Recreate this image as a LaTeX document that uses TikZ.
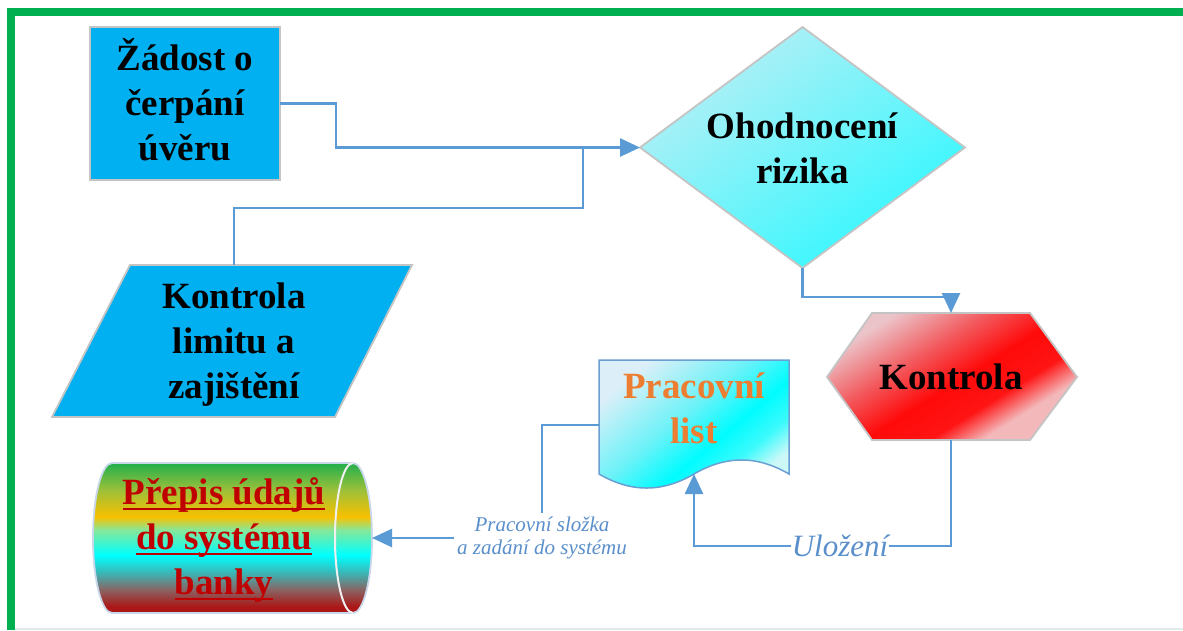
\documentclass[tikz,border=0pt]{standalone}
\usepackage{fontspec}
\setmainfont{Liberation Serif}
\usetikzlibrary{arrows.meta,shapes.geometric}

% palette
\definecolor{frameGreen}{HTML}{00B050}
\definecolor{paperLine}{HTML}{E2EAEA}
\definecolor{boxBlue}{HTML}{00B0F0}
\definecolor{edgeGray}{HTML}{C4C4C4}
\definecolor{linkBlue}{HTML}{5B9BD5}
\definecolor{noteBlue}{HTML}{5A8FCB}
\definecolor{diaTop}{HTML}{B8EFF5}
\definecolor{diaBottom}{HTML}{30F8FF}
\definecolor{docEdge}{HTML}{6A9FD2}
\definecolor{listOrange}{HTML}{ED7D31}
\definecolor{bankRed}{HTML}{C00000}
\definecolor{cylEdge}{HTML}{C8D8EA}
% storage drum bands
\definecolor{bandA}{HTML}{AC1616}
\definecolor{bandB}{HTML}{8A6262}
\definecolor{bandC}{HTML}{3CB4B4}
\definecolor{bandD}{HTML}{00FFFF}
\definecolor{bandE}{HTML}{86E89A}
\definecolor{bandF}{HTML}{F8C000}
\definecolor{bandG}{HTML}{9CC03A}
\definecolor{bandH}{HTML}{22B04C}
% control step
\definecolor{hexA}{HTML}{F3B8BA}
\definecolor{hexB}{HTML}{FF1414}
\definecolor{hexC}{HTML}{FF0A0A}
\definecolor{hexD}{HTML}{F25A5E}
\definecolor{hexE}{HTML}{EBC4C9}
% work sheet
\definecolor{docA}{HTML}{CCF8F8}
\definecolor{docB}{HTML}{3CFAFC}
\definecolor{docC}{HTML}{00FCFF}
\definecolor{docD}{HTML}{6CF2F8}
\definecolor{docE}{HTML}{DCEFF8}

% horizontal bands of the storage drum (bottom to top)
\pgfdeclareverticalshading{cylband}{100bp}{%
  color(0bp)=(bandA); color(25bp)=(bandA); color(27bp)=(bandA);
  color(32.7bp)=(bandB); color(38.3bp)=(bandC); color(44.3bp)=(bandD);
  color(52.7bp)=(bandE); color(57.1bp)=(bandF); color(66bp)=(bandG);
  color(75bp)=(bandH); color(100bp)=(bandH)}
% diagonal red sweep of the control step
\pgfdeclareverticalshading{hexsweep}{100bp}{%
  color(0bp)=(hexA); color(30bp)=(hexA); color(38bp)=(hexB);
  color(48bp)=(hexC); color(60bp)=(hexD); color(74bp)=(hexE); color(100bp)=(hexE)}
% cyan sweep of the work sheet
\pgfdeclareverticalshading{docsweep}{100bp}{%
  color(0bp)=(docA); color(25bp)=(docA); color(33bp)=(docB);
  color(42bp)=(docC); color(55bp)=(docD); color(75bp)=(docE); color(100bp)=(docE)}

% underlined line of text with a heavy rule
\newcommand\heavyul[1]{\setbox0=\hbox{#1}\rlap{\rule[-6pt]{\wd0}{2.6pt}}\box0}

\tikzset{
  link/.style={draw=linkBlue, line width=2.6pt},
  linkarrow/.style={link, -{Triangle[length=20pt,width=18pt]}},
  shapeedge/.style={draw=edgeGray, line width=1.8pt},
  bigtext/.style={font=\fontsize{37}{45}\selectfont\bfseries, align=center, inner sep=0pt},
  notetext/.style={font=\itshape\fontsize{21}{23.5}\selectfont, text=noteBlue, align=center},
}

\begin{document}
\begin{tikzpicture}[x=1pt,y=1pt]
\useasboundingbox (0,0) rectangle (1183,-630);
\fill[white] (0,0) rectangle (1183,-630);

% page frame
\draw[paperLine, line width=1.5pt] (15,-629) -- (1183,-629);
\draw[frameGreen, line width=8pt] (11,-630) -- (11,-12) -- (1183,-12);

% request box
\node[rectangle, fill=boxBlue, shapeedge, minimum width=190pt, minimum height=153pt,
      outer sep=0pt, inner sep=0pt] (zadost) at (185,-103.5) {};
\node[bigtext] (zadostT) at (185,-100) {Žádost o\\čerpání\\úvěru};

% risk decision
\node[diamond, shapeedge, minimum width=325pt, minimum height=241pt, aspect=1.35,
      inner sep=0pt, outer sep=0pt, top color=diaTop, bottom color=diaBottom,
      shading angle=35] (ohod) at (802.5,-147.5) {};
\node[bigtext] (ohodT) at (802.5,-148) {Ohodnocení\\rizika};

% limit check (input/output)
\path[shapeedge, fill=boxBlue] (130,-265) -- (412,-265) -- (335,-417) -- (52,-417) -- cycle;
\coordinate (limitN) at (234,-265);
\node[bigtext] (limitT) at (234,-345) {Kontrola\\limitu a\\zajištění};

% control step
\shadedraw[shading=hexsweep, shading angle=32, draw=edgeGray, line width=1.8pt]
  (872,-313) -- (1030,-313) -- (1077,-377) -- (1030,-440) -- (872,-440) -- (827,-377) -- cycle;
\coordinate (kontN) at (951,-313);
\coordinate (kontS) at (951,-440);
\node[bigtext] (kontT) at (951,-377) {Kontrola};

% work sheet document
\shadedraw[shading=docsweep, shading angle=40, draw=docEdge, line width=1.5pt]
  (599,-360) -- (789,-360) -- (789,-474)
  .. controls (757,-455.3) and (726,-455.3) .. (694,-474)
  .. controls (662,-492.7) and (631,-492.7) .. (599,-474) -- cycle;
\coordinate (docW) at (599,-425);
\coordinate (docBottom) at (694,-474);
\node[bigtext, text=listOrange] (docT) at (694,-408) {Pracovní\\list};

% bank system storage
\shadedraw[shading=cylband, draw=cylEdge, line width=1.8pt]
  (112,-463) -- (353,-463) arc[start angle=90, end angle=-90, x radius=19, y radius=75]
  -- (112,-613) arc[start angle=270, end angle=90, x radius=19, y radius=75] -- cycle;
\draw[white!88!gray, line width=2pt]
  (353,-463) arc[start angle=90, end angle=270, x radius=18, y radius=75];
\coordinate (cylE) at (372,-538);
\node[bigtext, text=bankRed] (bankT) at (224,-540)
  {\heavyul{Přepis údajů}\\\heavyul{do systému}\\\heavyul{banky}};

% connector labels
\node[notetext, fill=white, inner sep=3pt] (slozka) at (542,-538)
  {Pracovní složka\\a zadání do systému};
\node[font=\itshape\fontsize{31}{36}\selectfont, text=noteBlue, inner sep=1pt] (ulozeni) at (840,-546) {Uložení};

% connectors
\coordinate (merge) at (583,-148);
\draw[linkarrow] (zadost.east) -- ++(56,0) |- (ohod.west);
\draw[link] (limitN) -- ++(0,57) -| (merge);
\draw[linkarrow] (ohod.south) -- ++(0,-29) -| (kontN);
\draw[link] (kontS) |- (ulozeni.east);
\draw[linkarrow] (ulozeni.west) -| (docBottom);
\draw[link] (docW) -| (slozka.north);
\draw[linkarrow] (slozka.west) -- (cylE);
\end{tikzpicture}
\end{document}
